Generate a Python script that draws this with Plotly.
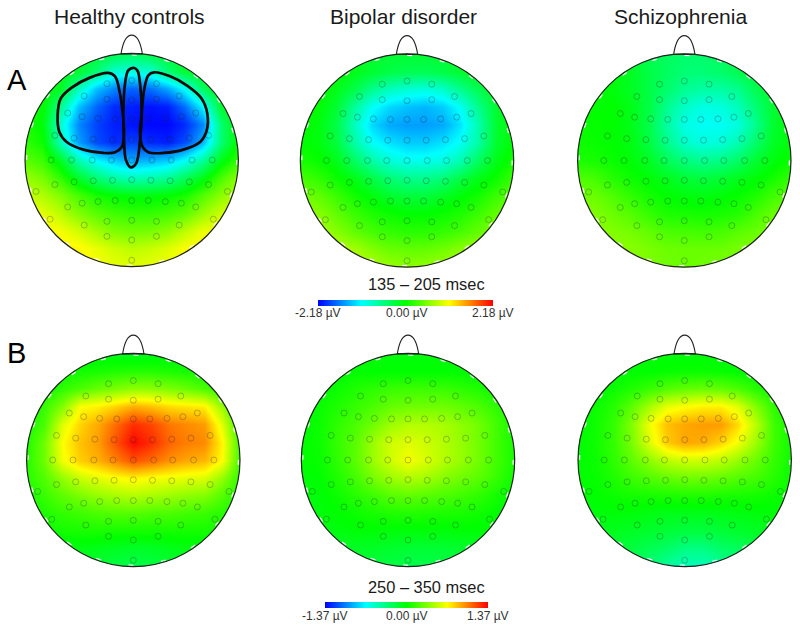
import plotly.graph_objects as go

WIDTH = 800
HEIGHT = 630
FONT = "Liberation Sans"

group_titles = ["Healthy controls", "Bipolar disorder", "Schizophrenia"]
row_letters = ["A", "B"]
window_a = "135 – 205 msec"
window_b = "250 – 350 msec"
limit_a = 2.18
limit_b = 1.37
bar_labels_a = ["-2.18 µV", "0.00 µV", "2.18 µV"]
bar_labels_b = ["-1.37 µV", "0.00 µV", "1.37 µV"]

# scalp grid, -1 to 1, the values below go top row first
grid_x = [-1, -0.833, -0.667, -0.5, -0.333, -0.167, 0, 0.167, 0.333, 0.5, 0.667, 0.833, 1]
grid_y = [1, 0.833, 0.667, 0.5, 0.333, 0.167, 0, -0.167, -0.333, -0.5, -0.667, -0.833, -1]

# amplitudes in microvolts
healthy_a = [
    [-0.2, -0.2, -0.2, -0.2, -0.2, -0.3, -0.4, -0.3, -0.2, -0.2, -0.2, -0.2, -0.2],
    [-0.1, -0.1, -0.1, -0.2, -0.5, -0.9, -0.95, -0.9, -0.5, -0.2, -0.1, -0.1, -0.1],
    [0.0, 0.0, -0.15, -0.8, -1.35, -1.6, -1.75, -1.7, -1.45, -1.05, -0.4, -0.05, 0.0],
    [0.1, 0.0, -0.6, -1.35, -1.75, -2.0, -2.05, -2.1, -2.05, -1.7, -1.1, -0.2, 0.0],
    [0.15, -0.05, -0.9, -1.6, -1.9, -2.05, -2.1, -2.15, -2.15, -2.0, -1.6, -0.5, 0.0],
    [0.2, 0.05, -0.8, -1.5, -1.85, -2.0, -1.9, -2.0, -2.05, -1.85, -1.4, -0.5, 0.05],
    [0.4, 0.25, -0.15, -0.75, -1.1, -1.3, -1.45, -1.4, -1.3, -1.05, -0.65, -0.1, 0.25],
    [0.65, 0.5, 0.2, -0.2, -0.5, -0.7, -0.8, -0.75, -0.65, -0.4, -0.1, 0.3, 0.6],
    [0.85, 0.75, 0.55, 0.3, 0.1, 0.0, -0.05, -0.05, 0.0, 0.1, 0.35, 0.6, 0.8],
    [1.05, 0.98, 0.8, 0.55, 0.38, 0.28, 0.22, 0.22, 0.28, 0.4, 0.65, 0.88, 1.0],
    [1.15, 1.12, 1.05, 0.9, 0.7, 0.55, 0.5, 0.52, 0.62, 0.82, 1.02, 1.08, 1.12],
    [1.2, 1.18, 1.15, 1.12, 1.0, 0.88, 0.8, 0.85, 0.95, 1.08, 1.12, 1.15, 1.18],
    [1.2, 1.18, 1.15, 1.12, 1.05, 1.0, 0.95, 1.0, 1.03, 1.1, 1.12, 1.15, 1.18],
]
bipolar_a = [
    [-0.2, -0.2, -0.2, -0.2, -0.2, -0.2, -0.2, -0.2, -0.2, -0.2, -0.2, -0.2, -0.2],
    [0.0, 0.0, 0.0, -0.1, -0.2, -0.3, -0.35, -0.35, -0.3, -0.2, -0.1, 0.0, 0.0],
    [0.0, 0.0, -0.1, -0.3, -0.6, -0.8, -0.9, -0.95, -0.85, -0.6, -0.35, -0.1, 0.0],
    [0.0, 0.0, -0.2, -0.65, -1.05, -1.25, -1.35, -1.4, -1.3, -1.05, -0.6, -0.2, 0.0],
    [0.0, -0.05, -0.3, -0.8, -1.25, -1.45, -1.5, -1.5, -1.45, -1.2, -0.75, -0.2, 0.0],
    [0.0, -0.05, -0.25, -0.7, -1.05, -1.2, -1.3, -1.3, -1.2, -1.05, -0.7, -0.2, 0.0],
    [0.1, 0.03, -0.1, -0.4, -0.7, -0.9, -1.0, -1.0, -0.95, -0.75, -0.4, -0.1, 0.1],
    [0.3, 0.2, 0.05, -0.1, -0.3, -0.5, -0.6, -0.6, -0.5, -0.3, -0.1, 0.05, 0.25],
    [0.5, 0.42, 0.25, 0.08, -0.05, -0.18, -0.25, -0.25, -0.15, -0.03, 0.08, 0.25, 0.42],
    [0.65, 0.58, 0.42, 0.25, 0.12, 0.05, 0.0, 0.0, 0.05, 0.12, 0.25, 0.42, 0.55],
    [0.8, 0.75, 0.58, 0.42, 0.3, 0.22, 0.18, 0.18, 0.22, 0.3, 0.42, 0.6, 0.75],
    [0.9, 0.85, 0.8, 0.7, 0.55, 0.45, 0.42, 0.42, 0.48, 0.58, 0.7, 0.8, 0.85],
    [0.95, 0.9, 0.9, 0.85, 0.75, 0.65, 0.6, 0.62, 0.68, 0.78, 0.85, 0.85, 0.9],
]
schizo_a = [
    [-0.3, -0.3, -0.3, -0.3, -0.35, -0.4, -0.45, -0.45, -0.4, -0.35, -0.3, -0.3, -0.3],
    [-0.05, -0.05, -0.05, -0.15, -0.3, -0.4, -0.5, -0.5, -0.45, -0.35, -0.2, -0.1, -0.1],
    [0.0, 0.0, -0.05, -0.15, -0.3, -0.45, -0.62, -0.7, -0.7, -0.6, -0.35, -0.15, -0.05],
    [0.0, 0.0, 0.0, -0.1, -0.3, -0.6, -0.85, -0.98, -0.95, -0.8, -0.5, -0.2, -0.05],
    [0.03, 0.02, 0.0, -0.1, -0.32, -0.68, -0.98, -1.05, -1.05, -0.95, -0.6, -0.2, -0.05],
    [0.05, 0.03, 0.0, -0.08, -0.28, -0.58, -0.85, -0.95, -0.92, -0.75, -0.45, -0.15, -0.02],
    [0.12, 0.1, 0.03, -0.03, -0.15, -0.35, -0.52, -0.6, -0.55, -0.42, -0.2, -0.05, 0.05],
    [0.35, 0.28, 0.15, 0.05, -0.03, -0.12, -0.22, -0.27, -0.22, -0.12, -0.03, 0.08, 0.22],
    [0.5, 0.45, 0.33, 0.2, 0.08, 0.0, -0.05, -0.07, -0.03, 0.03, 0.12, 0.28, 0.42],
    [0.58, 0.55, 0.45, 0.35, 0.22, 0.12, 0.1, 0.08, 0.1, 0.15, 0.3, 0.45, 0.52],
    [0.62, 0.6, 0.55, 0.5, 0.42, 0.32, 0.3, 0.28, 0.3, 0.38, 0.45, 0.55, 0.6],
    [0.65, 0.62, 0.6, 0.58, 0.52, 0.46, 0.45, 0.45, 0.46, 0.52, 0.58, 0.6, 0.62],
    [0.65, 0.62, 0.6, 0.58, 0.54, 0.48, 0.45, 0.48, 0.5, 0.54, 0.58, 0.6, 0.62],
]
healthy_b = [
    [-0.05, -0.05, -0.05, -0.05, -0.05, -0.07, -0.08, -0.07, -0.05, -0.05, -0.05, -0.05, -0.05],
    [0.0, 0.0, 0.03, 0.05, 0.07, 0.09, 0.1, 0.1, 0.08, 0.06, 0.03, 0.0, 0.0],
    [0.02, 0.05, 0.12, 0.2, 0.28, 0.33, 0.38, 0.38, 0.33, 0.28, 0.2, 0.1, 0.03],
    [0.03, 0.15, 0.35, 0.68, 0.72, 0.8, 0.9, 0.85, 0.78, 0.75, 0.72, 0.4, 0.05],
    [0.05, 0.2, 0.6, 0.8, 0.92, 1.08, 1.25, 1.18, 1.05, 1.0, 0.95, 0.6, 0.1],
    [0.08, 0.3, 0.68, 0.85, 0.95, 1.15, 1.35, 1.25, 1.1, 1.03, 1.0, 0.7, 0.15],
    [0.1, 0.3, 0.65, 0.82, 0.9, 1.02, 1.15, 1.08, 0.98, 0.92, 0.88, 0.68, 0.15],
    [0.1, 0.22, 0.4, 0.55, 0.62, 0.68, 0.72, 0.68, 0.65, 0.62, 0.6, 0.4, 0.12],
    [0.06, 0.15, 0.25, 0.33, 0.4, 0.45, 0.48, 0.45, 0.42, 0.38, 0.35, 0.22, 0.08],
    [0.03, 0.08, 0.13, 0.16, 0.2, 0.22, 0.22, 0.2, 0.2, 0.17, 0.15, 0.1, 0.05],
    [0.0, 0.03, 0.05, 0.06, 0.06, 0.05, 0.05, 0.05, 0.05, 0.05, 0.05, 0.04, 0.02],
    [-0.06, -0.05, -0.05, -0.05, -0.07, -0.09, -0.11, -0.1, -0.07, -0.05, -0.05, -0.05, -0.05],
    [-0.12, -0.12, -0.12, -0.12, -0.15, -0.18, -0.2, -0.18, -0.15, -0.12, -0.12, -0.12, -0.12],
]
bipolar_b = [
    [-0.03, -0.03, -0.03, -0.03, -0.03, -0.03, -0.03, -0.03, -0.03, -0.03, -0.03, -0.03, -0.03],
    [0.0, 0.0, 0.0, 0.0, 0.0, 0.0, 0.0, 0.0, 0.0, 0.0, 0.0, 0.0, 0.0],
    [0.0, 0.0, 0.03, 0.08, 0.12, 0.15, 0.16, 0.16, 0.15, 0.12, 0.08, 0.03, 0.0],
    [0.0, 0.02, 0.08, 0.14, 0.2, 0.27, 0.3, 0.3, 0.3, 0.26, 0.2, 0.12, 0.05],
    [0.0, 0.03, 0.12, 0.2, 0.3, 0.42, 0.48, 0.48, 0.45, 0.38, 0.3, 0.17, 0.05],
    [0.0, 0.03, 0.14, 0.24, 0.42, 0.55, 0.6, 0.55, 0.48, 0.4, 0.3, 0.17, 0.05],
    [0.0, 0.02, 0.12, 0.24, 0.42, 0.55, 0.66, 0.58, 0.48, 0.4, 0.3, 0.17, 0.05],
    [-0.02, 0.0, 0.08, 0.18, 0.32, 0.42, 0.48, 0.44, 0.36, 0.3, 0.24, 0.14, 0.03],
    [-0.03, -0.02, 0.03, 0.1, 0.16, 0.23, 0.26, 0.23, 0.2, 0.17, 0.12, 0.05, 0.0],
    [-0.05, -0.03, 0.0, 0.03, 0.06, 0.08, 0.09, 0.08, 0.07, 0.06, 0.04, 0.0, -0.02],
    [-0.08, -0.06, -0.04, -0.02, -0.02, -0.03, -0.03, -0.03, -0.03, -0.02, -0.02, -0.03, -0.05],
    [-0.12, -0.12, -0.12, -0.1, -0.1, -0.12, -0.14, -0.14, -0.14, -0.12, -0.1, -0.1, -0.1],
    [-0.15, -0.15, -0.15, -0.15, -0.17, -0.18, -0.2, -0.2, -0.18, -0.17, -0.15, -0.15, -0.15],
]
schizo_b = [
    [-0.03, -0.03, -0.03, -0.03, -0.03, -0.03, -0.03, -0.03, -0.03, -0.03, -0.03, -0.03, -0.03],
    [0.0, 0.0, 0.0, 0.0, 0.0, 0.02, 0.03, 0.03, 0.02, 0.0, 0.0, 0.0, 0.0],
    [0.0, 0.0, 0.03, 0.08, 0.15, 0.22, 0.26, 0.28, 0.26, 0.2, 0.1, 0.03, 0.0],
    [0.0, 0.03, 0.1, 0.25, 0.45, 0.62, 0.68, 0.72, 0.72, 0.6, 0.35, 0.12, 0.03],
    [0.0, 0.04, 0.14, 0.35, 0.65, 0.85, 0.92, 0.95, 0.95, 0.78, 0.5, 0.17, 0.03],
    [0.0, 0.04, 0.14, 0.33, 0.6, 0.82, 0.92, 0.9, 0.8, 0.65, 0.42, 0.17, 0.03],
    [0.0, 0.03, 0.12, 0.25, 0.38, 0.5, 0.55, 0.55, 0.5, 0.4, 0.28, 0.14, 0.03],
    [0.0, 0.02, 0.08, 0.16, 0.22, 0.27, 0.3, 0.3, 0.27, 0.22, 0.18, 0.1, 0.02],
    [-0.02, 0.0, 0.03, 0.05, 0.06, 0.07, 0.08, 0.08, 0.07, 0.06, 0.05, 0.03, 0.0],
    [-0.05, -0.03, -0.02, -0.03, -0.05, -0.07, -0.07, -0.07, -0.06, -0.05, -0.03, -0.02, -0.03],
    [-0.1, -0.1, -0.08, -0.1, -0.12, -0.15, -0.17, -0.17, -0.15, -0.12, -0.1, -0.08, -0.08],
    [-0.15, -0.15, -0.15, -0.17, -0.22, -0.27, -0.35, -0.35, -0.28, -0.25, -0.2, -0.18, -0.15],
    [-0.2, -0.2, -0.2, -0.25, -0.32, -0.42, -0.5, -0.5, -0.42, -0.32, -0.25, -0.2, -0.2],
]

# electrode montage in scalp coordinates
electrode_x = [
    0, -0.232, 0.232,
    -0.445, -0.232, 0, 0.232, 0.445,
    -0.6, -0.465, -0.315, -0.155, 0, 0.155, 0.315, 0.465, 0.6,
    -0.72, -0.54, -0.36, -0.18, 0, 0.18, 0.36, 0.54, 0.72,
    -0.755, -0.565, -0.37, -0.19, 0, 0.19, 0.37, 0.565, 0.755,
    -0.72, -0.54, -0.36, -0.18, 0, 0.18, 0.36, 0.54, 0.72,
    -0.897, 0.897,
    -0.6, -0.465, -0.315, -0.155, 0, 0.155, 0.315, 0.465, 0.6,
    -0.765, 0.765,
    -0.445, -0.232, 0, 0.232, 0.445,
    -0.232, 0, 0.232,
    0,
]
electrode_y = [
    0.745, 0.715, 0.715,
    0.6, 0.57, 0.56, 0.57, 0.6,
    0.44, 0.406, 0.39, 0.385, 0.385, 0.385, 0.39, 0.406, 0.44,
    0.23, 0.205, 0.195, 0.19, 0.19, 0.19, 0.195, 0.205, 0.23,
    0, 0, 0, 0, 0, 0, 0, 0, 0,
    -0.23, -0.205, -0.195, -0.19, -0.185, -0.19, -0.195, -0.205, -0.23,
    -0.295, -0.295,
    -0.44, -0.405, -0.39, -0.38, -0.38, -0.38, -0.39, -0.405, -0.44,
    -0.555, -0.555,
    -0.61, -0.575, -0.565, -0.575, -0.61,
    -0.715, -0.75, -0.715,
    -0.94,
]

# regions of interest on the healthy controls map
roi_left_x = [-0.219, -0.391, -0.5625, -0.666, -0.694, -0.678, -0.609, -0.453, -0.266, -0.156, -0.094, -0.072, -0.084, -0.116, -0.156, -0.219]
roi_left_y = [0.816, 0.772, 0.678, 0.575, 0.419, 0.2625, 0.169, 0.097, 0.066, 0.072, 0.122, 0.247, 0.434, 0.653, 0.784, 0.816]
roi_right_x = [0.209, 0.359, 0.516, 0.656, 0.709, 0.703, 0.641, 0.484, 0.297, 0.156, 0.103, 0.078, 0.094, 0.116, 0.156, 0.209]
roi_right_y = [0.822, 0.784, 0.7, 0.575, 0.434, 0.278, 0.169, 0.097, 0.066, 0.072, 0.122, 0.247, 0.434, 0.653, 0.794, 0.822]
roi_mid_x = [0.025, -0.031, -0.0625, -0.078, -0.072, -0.053, -0.009, 0.041, 0.078, 0.094, 0.078, 0.056, 0.025]
roi_mid_y = [0.8625, 0.841, 0.716, 0.434, 0.184, -0.003, -0.069, -0.034, 0.184, 0.434, 0.716, 0.834, 0.8625]

colorscale = [[0, "#0000ff"], [0.25, "#00ffff"], [0.5, "#00ff00"], [0.75, "#ffff00"], [1, "#ff0000"]]

# centre x, centre y, radius of each head in page pixels
heads = [
    (healthy_a, 131.7, 160, 106.7, "coloraxis"),
    (bipolar_a, 407, 160.5, 106.7, "coloraxis"),
    (schizo_a, 684.3, 160.5, 106.7, "coloraxis"),
    (healthy_b, 133.3, 460, 106.7, "coloraxis2"),
    (bipolar_b, 408, 460, 106.7, "coloraxis2"),
    (schizo_b, 684.7, 460, 106.7, "coloraxis2"),
]

# circle outline as beziers, so that it can cut a hole in the white mask
k = 0.5523
circle_path = (f"M 1 0 C 1 {k} {k} 1 0 1 C {-k} 1 -1 {k} -1 0 "
               f"C -1 {-k} {-k} -1 0 -1 C {k} -1 1 {-k} 1 0 Z")
mask_path = "M -1.05 -1.25 L 1.05 -1.25 L 1.05 1.25 L -1.05 1.25 Z " + circle_path
nose_path = "M -0.1 0.995 C -0.08 1.12 -0.04 1.17 0 1.17 C 0.04 1.17 0.08 1.12 0.1 0.995 Z"

fig = go.Figure()
shapes = []
layout_axes = {}

for i, (values, cx, cy, r, caxis) in enumerate(heads):
    suffix = "" if i == 0 else str(i + 1)
    xname = "x" + suffix
    yname = "y" + suffix

    fig.add_trace(go.Heatmap(x=grid_x, y=grid_y, z=values, zsmooth="best",
                             coloraxis=caxis, xaxis=xname, yaxis=yname,
                             hoverinfo="skip"))
    fig.add_trace(go.Scatter(x=electrode_x, y=electrode_y, mode="markers",
                             marker=dict(symbol="circle-open", size=6,
                                         color="rgba(30,30,30,0.36)",
                                         line=dict(width=0.8, color="rgba(30,30,30,0.36)")),
                             xaxis=xname, yaxis=yname, showlegend=False,
                             hoverinfo="skip"))

    x_domain = [(cx - 1.05 * r) / WIDTH, (cx + 1.05 * r) / WIDTH]
    y_domain = [1 - (cy + 1.25 * r) / HEIGHT, 1 - (cy - 1.25 * r) / HEIGHT]
    layout_axes["xaxis" + suffix] = dict(domain=x_domain, range=[-1.05, 1.05], visible=False,
                                         fixedrange=True, anchor=yname)
    layout_axes["yaxis" + suffix] = dict(domain=y_domain, range=[-1.25, 1.25], visible=False,
                                         fixedrange=True, anchor=xname)

    shapes.append(dict(type="path", path=mask_path, xref=xname, yref=yname,
                       fillcolor="white", line=dict(width=0), layer="above"))
    # the heatmap leaves a hairline at the subplot edge, paint over it in paper coordinates
    shapes.append(dict(type="rect", x0=x_domain[0], x1=x_domain[1], y0=y_domain[0], y1=y_domain[1],
                       xref="paper", yref="paper", layer="above",
                       line=dict(color="white", width=4)))
    # white ticks just inside the rim
    shapes.append(dict(type="circle", x0=-0.985, x1=0.985, y0=-0.985, y1=0.985,
                       xref=xname, yref=yname, layer="above",
                       line=dict(color="white", width=1.2, dash="5px,28px")))
    shapes.append(dict(type="path", path=circle_path, xref=xname, yref=yname,
                       line=dict(color="#222222", width=1.2), layer="above"))
    shapes.append(dict(type="path", path=nose_path, xref=xname, yref=yname,
                       line=dict(color="#222222", width=1.1), layer="above"))

for roi_x, roi_y in [(roi_left_x, roi_left_y), (roi_right_x, roi_right_y), (roi_mid_x, roi_mid_y)]:
    fig.add_trace(go.Scatter(x=roi_x, y=roi_y, mode="lines",
                             line=dict(color="#0a0a0a", width=2.7, shape="spline", smoothing=1),
                             xaxis="x", yaxis="y", showlegend=False, hoverinfo="skip"))


def label(text, x, y, size, color="#1a1a1a"):
    return dict(text=text, x=x / WIDTH, y=1 - y / HEIGHT, xref="paper", yref="paper",
                showarrow=False, xanchor="center", yanchor="middle",
                font=dict(family=FONT, size=size, color=color))


annotations = [
    label(group_titles[0], 129, 16, 21),
    label(group_titles[1], 403.3, 16, 21),
    label(group_titles[2], 680.7, 16, 21),
    label(row_letters[0], 16.5, 79.5, 29, "#000000"),
    label(row_letters[1], 16.5, 352.5, 29, "#000000"),
    label(window_a, 426, 284, 16.4),
    label(window_b, 426, 587, 16.4),
    label(bar_labels_a[0], 318.3, 313.3, 12, "#333333"),
    label(bar_labels_a[1], 406.7, 313.3, 12, "#333333"),
    label(bar_labels_a[2], 493, 313.3, 12, "#333333"),
    label(bar_labels_b[0], 325, 616, 12, "#333333"),
    label(bar_labels_b[1], 406.7, 616, 12, "#333333"),
    label(bar_labels_b[2], 487.7, 616, 12, "#333333"),
]


def bar_axis(limit, left, length, top):
    return dict(
        cmin=-limit, cmax=limit, colorscale=colorscale,
        colorbar=dict(orientation="h", xref="paper", yref="paper",
                      x=left / WIDTH, xanchor="left", y=1 - top / HEIGHT, yanchor="top",
                      len=length, lenmode="pixels", thickness=5.7, thicknessmode="pixels",
                      xpad=0, ypad=0, outlinewidth=0, ticks="", showticklabels=False))


fig.update_layout(
    width=WIDTH, height=HEIGHT, margin=dict(l=0, r=0, t=0, b=0),
    paper_bgcolor="white", plot_bgcolor="white", showlegend=False,
    shapes=shapes, annotations=annotations,
    coloraxis=bar_axis(limit_a, 318.3, 174.7, 300),
    coloraxis2=bar_axis(limit_b, 325, 162.7, 602.3),
    **layout_axes,
)

# the page's default 8px body margin would shift the whole figure
fig.write_html("out.html", config=dict(displayModeBar=False),
               post_script="document.body.style.margin='0';")
